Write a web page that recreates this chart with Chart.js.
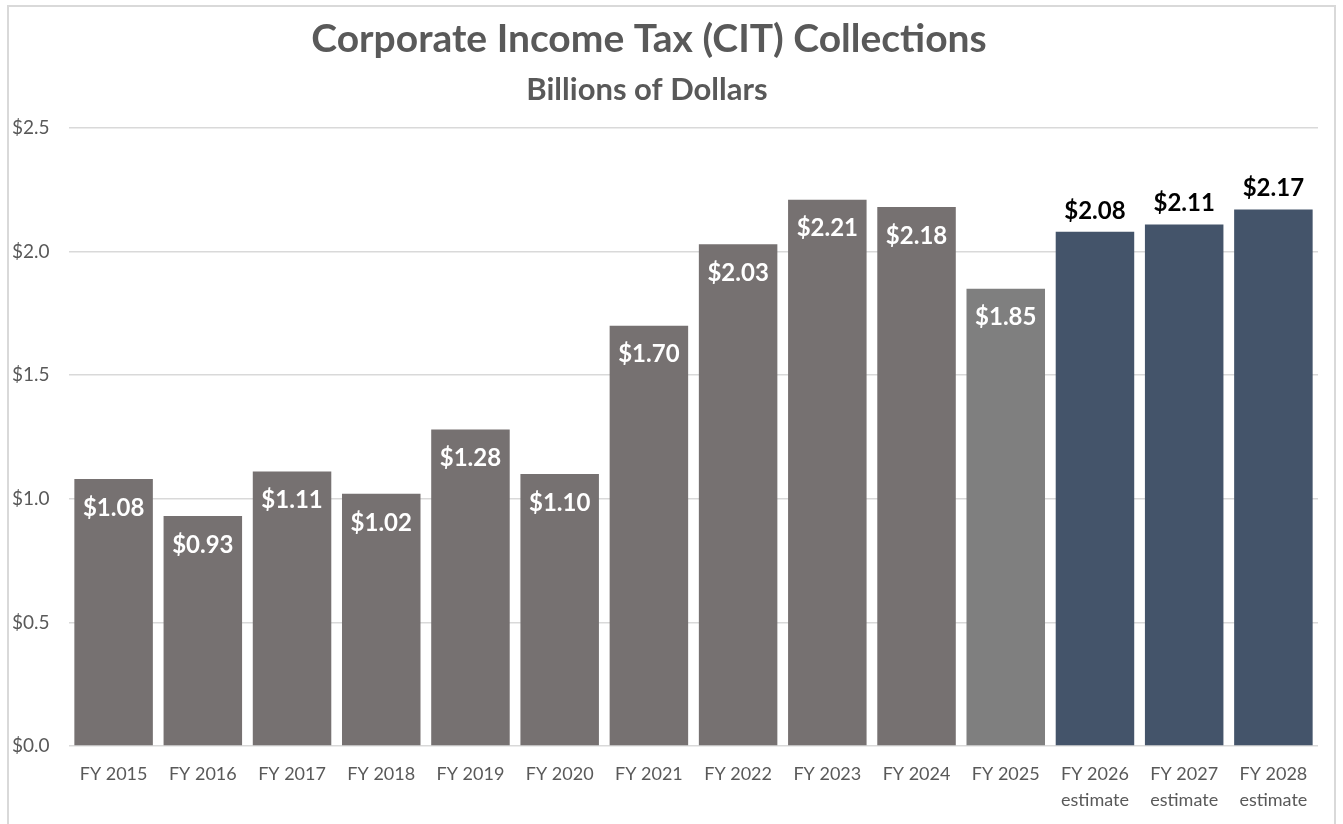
<!DOCTYPE html>
<html>
<head>
<meta charset="utf-8">
<script src="https://cdn.jsdelivr.net/npm/chart.js@4.4.1/dist/chart.umd.min.js"></script>
<style>
  html, body { margin: 0; padding: 0; background: #fff; }
  #wrap { position: relative; width: 1343px; height: 824px; overflow: hidden; }
  #frame { position: absolute; left: 7px; top: 5px; width: 1329px; height: 840px;
           border: 2px solid #d9d9d9; box-sizing: border-box; pointer-events: none; }
</style>
</head>
<body>
<div id="wrap">
  <canvas id="citChart" width="1343" height="824"></canvas>
  <div id="frame"></div>
</div>
<script>
// fiscal years, collections in billions of dollars
const years = [
    'FY 2015', 'FY 2016', 'FY 2017', 'FY 2018', 'FY 2019', 'FY 2020', 'FY 2021',
    'FY 2022', 'FY 2023', 'FY 2024', 'FY 2025',
    ['FY 2026', 'estimate'], ['FY 2027', 'estimate'], ['FY 2028', 'estimate']
];
const collections = [1.08, 0.93, 1.11, 1.02, 1.28, 1.10, 1.70, 2.03, 2.21, 2.18, 1.85, 2.08, 2.11, 2.17];
const isEstimate = [false, false, false, false, false, false, false, false, false, false, false, true, true, true];
const yTicks = [0, 0.5, 1.0, 1.5, 2.0, 2.5];
const titleText = 'Corporate Income Tax (CIT) Collections';
const subtitleText = 'Billions of Dollars';

const FONT = 'Lato, Carlito, Calibri, sans-serif';
const TEXT_GREY = '#595959';

function barColor(i){
    if (isEstimate[i]) return '#44546A';
    if (years[i] === 'FY 2025') return '#7F7F7F';
    return '#767171';
}

// titles are drawn by hand so they can sit centred on the frame, not the padded box
const titles = {
    id: 'titles',
    afterDraw(chart){
        const ctx = chart.ctx;
        ctx.save();
        ctx.fillStyle = TEXT_GREY;
        ctx.textAlign = 'center';
        ctx.textBaseline = 'alphabetic';
        ctx.font = 'bold 39px ' + FONT;
        ctx.fillText(titleText, 649, 52);
        ctx.font = 'bold 31px ' + FONT;
        ctx.fillText(subtitleText, 647, 100);
        ctx.restore();
    }
};

// data labels: inside the top for actuals, above the bar for estimates
const valueLabels = {
    id: 'valueLabels',
    afterDatasetsDraw(chart){
        const ctx = chart.ctx;
        const meta = chart.getDatasetMeta(0);
        ctx.save();
        ctx.font = 'bold 24px ' + FONT;
        ctx.textAlign = 'center';
        ctx.textBaseline = 'middle';
        meta.data.forEach((bar, i) => {
            const txt = '$' + collections[i].toFixed(2);
            if (isEstimate[i]) {
                ctx.fillStyle = '#000000';
                ctx.fillText(txt, bar.x, bar.y - 21);
            } else {
                ctx.fillStyle = '#ffffff';
                ctx.fillText(txt, bar.x, bar.y + 29);
            }
        });
        ctx.restore();
    }
};

const ct = document.getElementById('citChart').getContext('2d');
const citChart = new Chart(ct, {
    type: 'bar',
    data: {
        labels: years,
        datasets: [{
            label: 'CIT Collections',
            data: collections,
            backgroundColor: collections.map((v, i) => barColor(i)),
            borderWidth: 0,
            barPercentage: 0.88,
            categoryPercentage: 1.0
        }]
    },
    options: {
        responsive: false,
        animation: false,
        layout: {
            padding: { left: 12, right: 25, top: 128, bottom: 8 }
        },
        plugins: {
            legend: { display: false },
            tooltip: { enabled: false },
            title: { display: false },
            subtitle: { display: false }
        },
        scales: {
            x: {
                grid: { display: false },
                border: { display: false },
                ticks: {
                    color: TEXT_GREY,
                    font: { family: FONT, size: 18, lineHeight: 1.4 },
                    padding: 8,
                    maxRotation: 0,
                    autoSkip: false
                },
                afterFit(scale){ scale.height = 70; }
            },
            y: {
                min: 0,
                max: 2.5,
                afterBuildTicks(scale){ scale.ticks = yTicks.map(v => ({ value: v })); },
                grid: { color: '#d9d9d9', lineWidth: 1.5, drawTicks: false },
                border: { display: false },
                ticks: {
                    color: TEXT_GREY,
                    font: { family: FONT, size: 19 },
                    crossAlign: 'far',
                    callback: v => '$' + Number(v).toFixed(1)
                },
                afterFit(scale){ scale.width = 57; }
            }
        }
    },
    plugins: [valueLabels, titles]
});
</script>
</body>
</html>
